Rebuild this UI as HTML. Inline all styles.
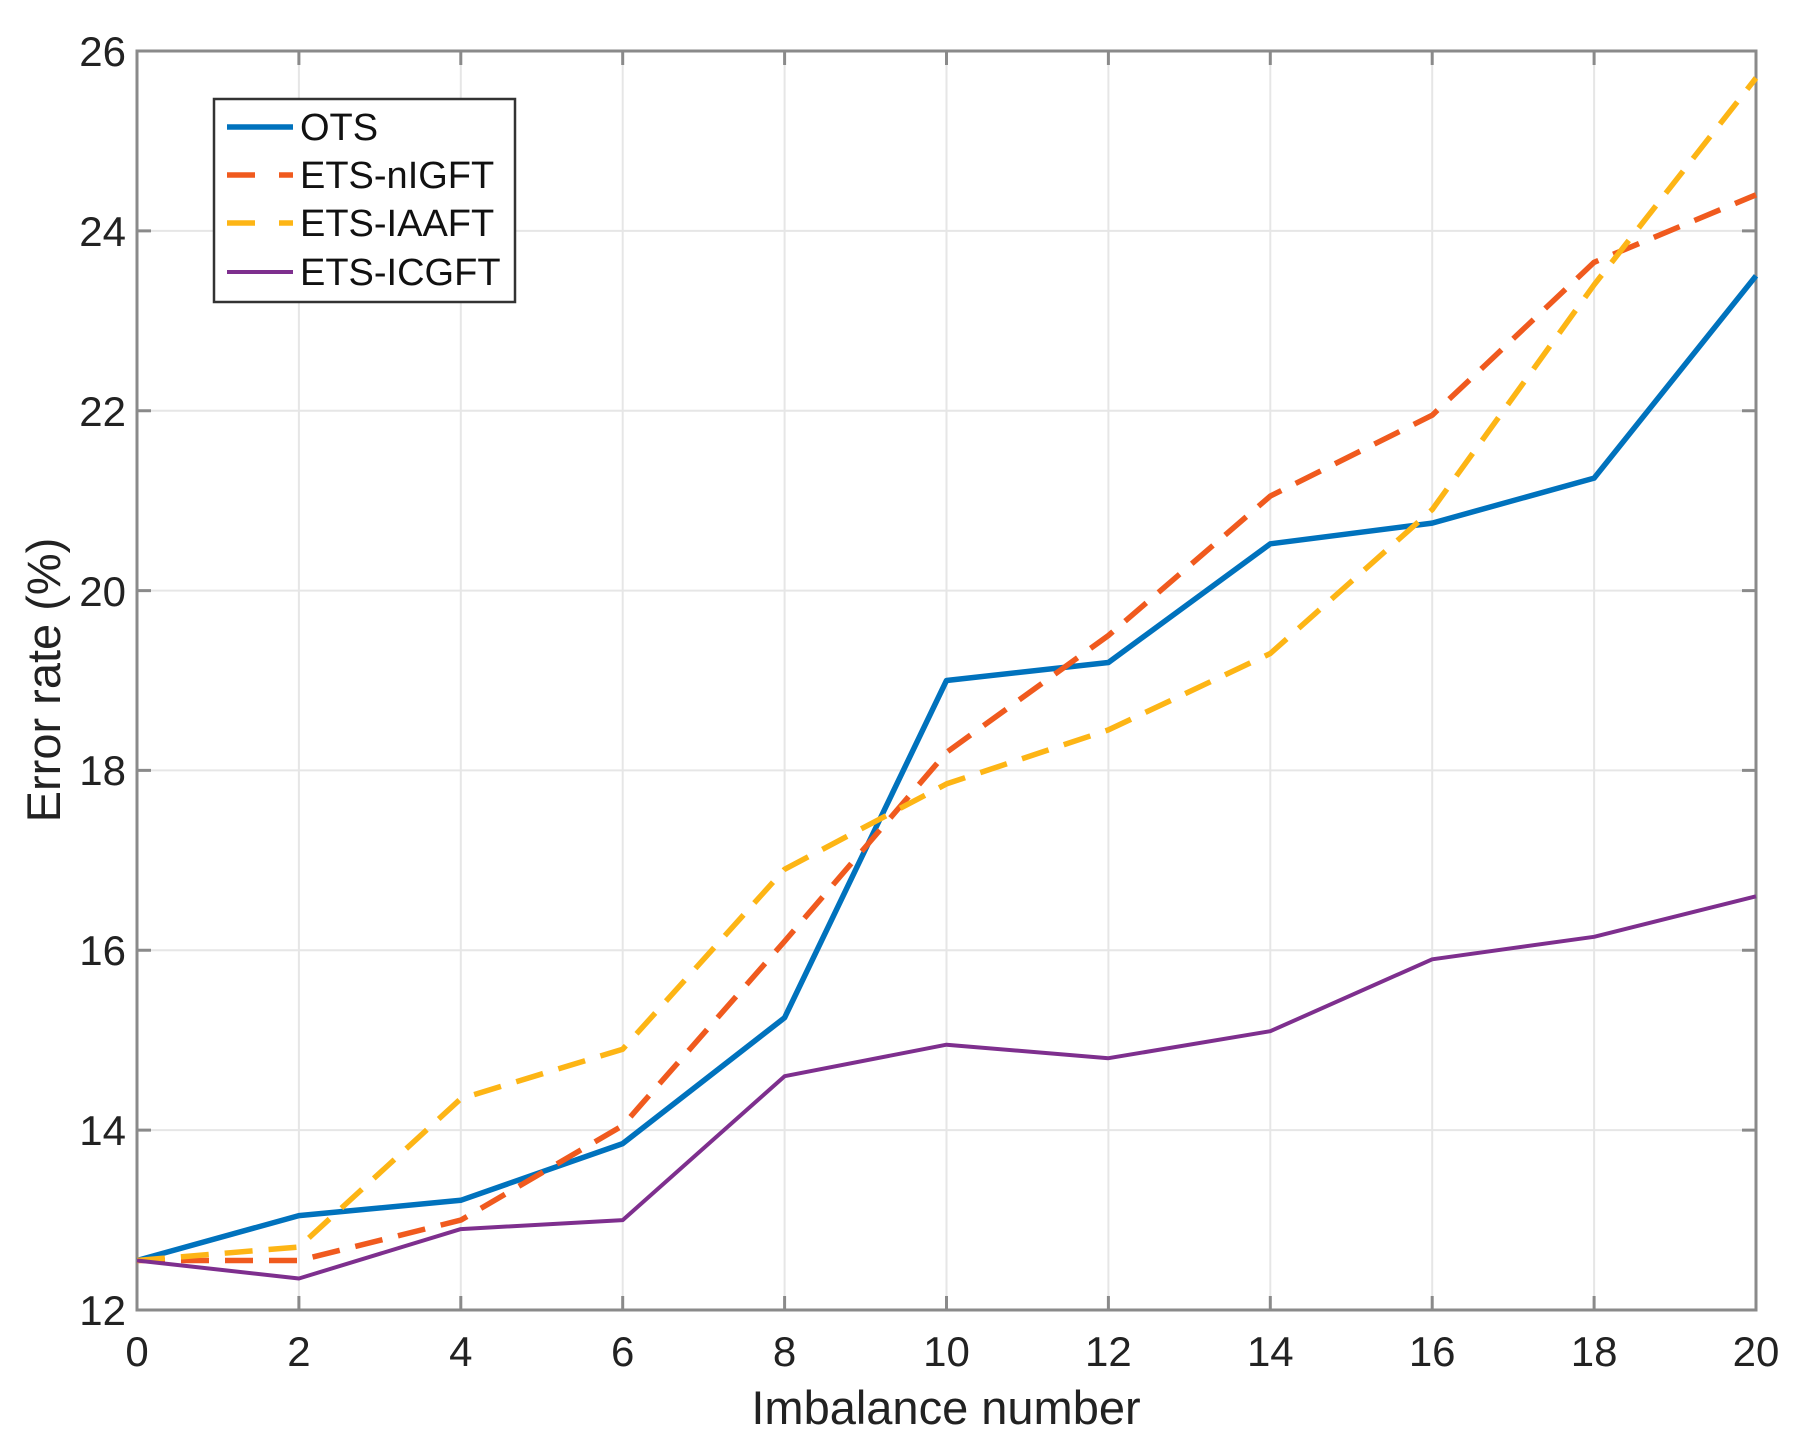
<!DOCTYPE html>
<html><head><style>body{margin:0;background:#fff}</style></head><body>
<svg width="1808" height="1451" xmlns="http://www.w3.org/2000/svg" font-family="Liberation Sans, sans-serif">
<rect width="1808" height="1451" fill="#fff"/>
<g stroke="#e6e6e6" stroke-width="2">
<line x1="298.9" x2="298.9" y1="51" y2="1310"/><line x1="460.8" x2="460.8" y1="51" y2="1310"/><line x1="622.7" x2="622.7" y1="51" y2="1310"/><line x1="784.6" x2="784.6" y1="51" y2="1310"/><line x1="946.5" x2="946.5" y1="51" y2="1310"/><line x1="1108.4" x2="1108.4" y1="51" y2="1310"/><line x1="1270.3" x2="1270.3" y1="51" y2="1310"/><line x1="1432.2" x2="1432.2" y1="51" y2="1310"/><line x1="1594.1" x2="1594.1" y1="51" y2="1310"/>
<line x1="137" x2="1756" y1="1130.1" y2="1130.1"/><line x1="137" x2="1756" y1="950.3" y2="950.3"/><line x1="137" x2="1756" y1="770.4" y2="770.4"/><line x1="137" x2="1756" y1="590.6" y2="590.6"/><line x1="137" x2="1756" y1="410.7" y2="410.7"/><line x1="137" x2="1756" y1="230.9" y2="230.9"/>
</g>
<rect x="137" y="51" width="1619" height="1259" fill="none" stroke="#8a8a8a" stroke-width="3"/>
<g stroke="#8a8a8a" stroke-width="3">
<path d="M298.9 1310v-14M460.8 1310v-14M622.7 1310v-14M784.6 1310v-14M946.5 1310v-14M1108.4 1310v-14M1270.3 1310v-14M1432.2 1310v-14M1594.1 1310v-14M298.9 51v14M460.8 51v14M622.7 51v14M784.6 51v14M946.5 51v14M1108.4 51v14M1270.3 51v14M1432.2 51v14M1594.1 51v14"/>
<path d="M137 1130.1h14M137 950.3h14M137 770.4h14M137 590.6h14M137 410.7h14M137 230.9h14M1756 1130.1h-14M1756 950.3h-14M1756 770.4h-14M1756 590.6h-14M1756 410.7h-14M1756 230.9h-14"/>
</g>
<g font-size="42" fill="#222" text-anchor="middle">
<text x="137" y="1366">0</text><text x="298.9" y="1366">2</text><text x="460.8" y="1366">4</text><text x="622.7" y="1366">6</text><text x="784.6" y="1366">8</text><text x="946.5" y="1366">10</text><text x="1108.4" y="1366">12</text><text x="1270.3" y="1366">14</text><text x="1432.2" y="1366">16</text><text x="1594.1" y="1366">18</text><text x="1756" y="1366">20</text>
</g>
<g font-size="42" fill="#222" text-anchor="end">
<text x="126" y="1325">12</text><text x="126" y="1145">14</text><text x="126" y="965">16</text><text x="126" y="785">18</text><text x="126" y="606">20</text><text x="126" y="426">22</text><text x="126" y="246">24</text><text x="126" y="66">26</text>
</g>
<text x="946" y="1424" font-size="47" text-anchor="middle" fill="#222">Imbalance number</text>
<text transform="translate(60,680) rotate(-90)" font-size="47" text-anchor="middle" fill="#222">Error rate (%)</text>
<g fill="none" stroke-linejoin="round">
<polyline stroke="#0072bd" stroke-width="5.5" points="137,1260.5 298.9,1215.6 460.8,1200.3 622.7,1143.6 784.6,1017.7 946.5,680.5 1108.4,662.5 1270.3,543.8 1432.2,523.1 1594.1,478.1 1756,275.8"/>
<polyline stroke="#f05a1e" stroke-width="5.5" stroke-dasharray="28,16" points="137,1260.5 298.9,1260.5 460.8,1220.1 622.7,1125.6 784.6,941.3 946.5,752.4 1108.4,635.5 1270.3,496.1 1432.2,415.2 1594.1,262.3 1756,194.8"/>
<polyline stroke="#fdb515" stroke-width="5.5" stroke-dasharray="28,16" points="137,1260.5 298.9,1247 460.8,1098.7 622.7,1049.2 784.6,869.3 946.5,783.9 1108.4,729.9 1270.3,653.5 1432.2,509.6 1594.1,284.8 1756,78"/>
<polyline stroke="#7e2f8e" stroke-width="4" points="137,1260.5 298.9,1278.5 460.8,1229.1 622.7,1220.1 784.6,1076.2 946.5,1044.7 1108.4,1058.2 1270.3,1031.2 1432.2,959.3 1594.1,936.8 1756,896.3"/>
</g>
<rect x="214" y="99" width="301" height="203" fill="#fff" stroke="#333" stroke-width="2.5"/>
<line x1="227" x2="293" y1="127" y2="127" stroke="#0072bd" stroke-width="5.5"/>
<line x1="227" x2="293" y1="175" y2="175" stroke="#f05a1e" stroke-width="5.5" stroke-dasharray="28,24"/>
<line x1="227" x2="293" y1="223" y2="223" stroke="#fdb515" stroke-width="5.5" stroke-dasharray="28,24"/>
<line x1="227" x2="293" y1="272" y2="272" stroke="#7e2f8e" stroke-width="4"/>
<g font-size="38" fill="#111">
<text x="300" y="140">OTS</text><text x="300" y="188">ETS-nIGFT</text><text x="300" y="236">ETS-IAAFT</text><text x="300" y="285">ETS-ICGFT</text>
</g>
</svg>
</body></html>
